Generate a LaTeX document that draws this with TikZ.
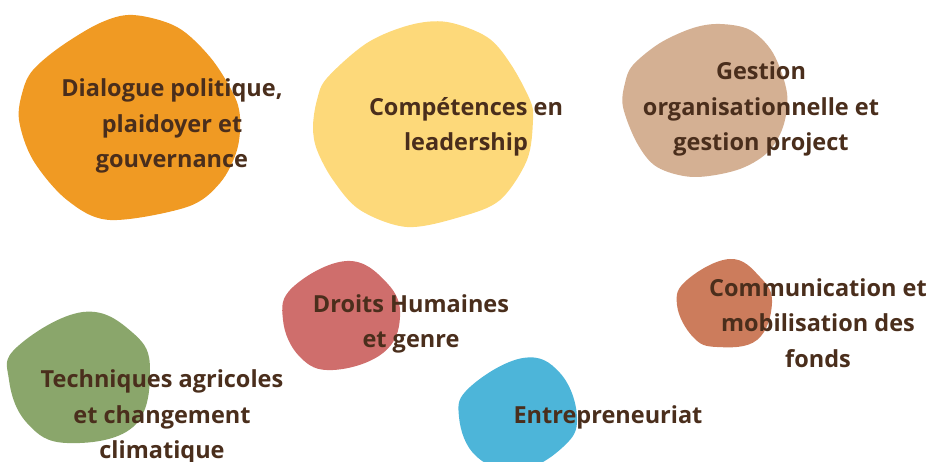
\documentclass[tikz,border=0pt]{standalone}
\usepackage{fontspec}
\setmainfont{Open Sans}
\usepackage{tikz}
\usetikzlibrary{positioning}

\definecolor{blobOrange}{HTML}{F09A23}
\definecolor{blobYellow}{HTML}{FDD97A}
\definecolor{blobTan}{HTML}{D4B093}
\definecolor{blobGreen}{HTML}{8AA66B}
\definecolor{blobRed}{HTML}{CF6E6C}
\definecolor{blobBlue}{HTML}{4DB5D9}
\definecolor{blobClay}{HTML}{CC7C5C}
\definecolor{textBrown}{HTML}{4A2E1C}

\begin{document}
\begin{tikzpicture}[x=1pt,y=-1pt,
    blob/.style={draw=none},
    topic/.style={inner sep=0pt,align=center,text=textBrown,
      font=\fontsize{23.5}{35.5}\selectfont\bfseries}]
    \useasboundingbox (0,0) rectangle (929,462);
    \clip (0,0) rectangle (929,462);

    % blobs
    \fill[blob,blobOrange] plot[smooth cycle,tension=0.55] coordinates
      {(33,70) (60,47) (100,23) (133,15) (177,27) (210,57) (233,93) (240,117) (237,150)
       (220,183) (187,207) (110,220) (67,200) (33,160) (19,120) (23,90)};
    \fill[blob,blobYellow] plot[smooth cycle,tension=0.55] coordinates
      {(327,78) (367,43) (410,25) (447,22) (487,37) (510,63) (530,100) (533,120) (527,160)
       (500,200) (460,217) (407,227) (360,210) (333,180) (317,150) (313,127) (317,100)};
    \fill[blob,blobTan] plot[smooth cycle,tension=0.55] coordinates
      {(633,65) (660,43) (693,28) (720,24) (750,30) (773,53) (787,93) (783,127) (767,153)
       (737,170) (693,177) (657,167) (637,143) (623,107) (625,83)};
    \fill[blob,blobRed] plot[smooth cycle,tension=0.7] coordinates
      {(293,287) (347,261) (387,283) (400,317) (383,353) (333,370) (300,357) (283,320)};
    \fill[blob,blobClay] plot[smooth cycle,tension=0.7] coordinates
      {(687,280) (730,259) (760,277) (772,303) (757,340) (717,347) (693,337) (677,305)};
    \fill[blob,blobGreen] plot[smooth cycle,tension=0.7] coordinates
      {(17,347) (83,312) (133,333) (150,370) (133,427) (67,443) (27,423) (9,380)};
    \fill[blob,blobBlue] plot[smooth cycle,tension=0.7] coordinates
      {(470,387) (523,358) (560,373) (577,417) (563,447) (520,470) (477,457) (459,417)};

    % topics
    \node[topic] (dialogue) at (172,126) {Dialogue politique,\\plaidoyer et\\gouvernance};
    \node[topic] (leader) at (466,127) {Compétences en\\leadership};
    \node[topic] (gestion) at (761,109) {Gestion\\organisationnelle et\\gestion project};
    \node[topic] (droits) at (411,324) {Droits Humaines\\et genre};
    \node[topic] (comm) at (818,323) {Communication et\\mobilisation des\\fonds};
    \node[topic] (agri) at (162,417) {Techniques agricoles\\et changement\\climatique};
    \node[topic] (entre) at (608,417) {Entrepreneuriat};
\end{tikzpicture}
\end{document}
